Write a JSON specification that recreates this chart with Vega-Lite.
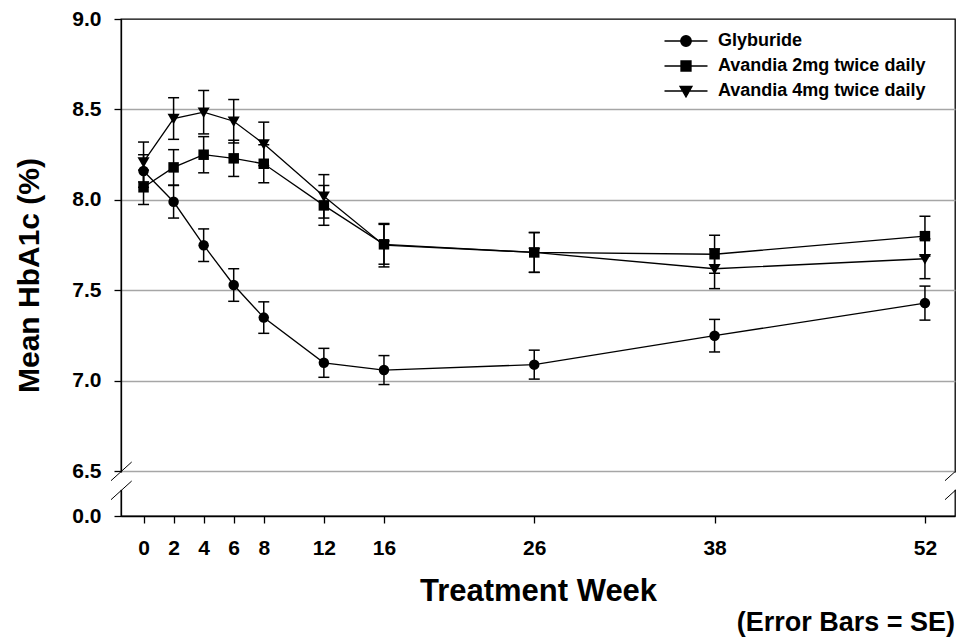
{
  "$schema": "https://vega.github.io/schema/vega-lite/v6.json",
  "width": 834,
  "height": 497,
  "autosize": {"type": "none"},
  "padding": {"left": 121, "top": 19, "right": 1, "bottom": 127},
  "background": "white",
  "config": {
    "font": "Liberation Sans",
    "view": {"stroke": "black", "strokeWidth": 1.3},
    "axis": {
      "labelFont": "Liberation Sans",
      "titleFont": "Liberation Sans",
      "labelFontWeight": "bold",
      "labelColor": "black",
      "titleColor": "black",
      "titleFontWeight": "bold",
      "domainColor": "black",
      "tickColor": "black",
      "domainWidth": 1.3,
      "tickWidth": 1.3
    }
  },
  "title": {
    "text": "(Error Bars = SE)",
    "orient": "bottom",
    "anchor": "end",
    "frame": "group",
    "font": "Liberation Sans",
    "fontSize": 27,
    "fontWeight": "bold",
    "color": "black",
    "offset": 4
  },
  "data": {
    "values": [
      {"drug": "Glyburide", "week": 0, "mean": 8.16, "se": 0.09},
      {"drug": "Glyburide", "week": 2, "mean": 7.99, "se": 0.09},
      {"drug": "Glyburide", "week": 4, "mean": 7.75, "se": 0.09},
      {"drug": "Glyburide", "week": 6, "mean": 7.53, "se": 0.09},
      {"drug": "Glyburide", "week": 8, "mean": 7.35, "se": 0.087},
      {"drug": "Glyburide", "week": 12, "mean": 7.1, "se": 0.08},
      {"drug": "Glyburide", "week": 16, "mean": 7.06, "se": 0.08},
      {"drug": "Glyburide", "week": 26, "mean": 7.09, "se": 0.08},
      {"drug": "Glyburide", "week": 38, "mean": 7.25, "se": 0.09},
      {"drug": "Glyburide", "week": 52, "mean": 7.43, "se": 0.094},
      {"drug": "Avandia 2mg twice daily", "week": 0, "mean": 8.07, "se": 0.095},
      {"drug": "Avandia 2mg twice daily", "week": 2, "mean": 8.18, "se": 0.098},
      {"drug": "Avandia 2mg twice daily", "week": 4, "mean": 8.25, "se": 0.1},
      {"drug": "Avandia 2mg twice daily", "week": 6, "mean": 8.23, "se": 0.1},
      {"drug": "Avandia 2mg twice daily", "week": 8, "mean": 8.2, "se": 0.105},
      {"drug": "Avandia 2mg twice daily", "week": 12, "mean": 7.97, "se": 0.11},
      {"drug": "Avandia 2mg twice daily", "week": 16, "mean": 7.755, "se": 0.11},
      {"drug": "Avandia 2mg twice daily", "week": 26, "mean": 7.71, "se": 0.11},
      {"drug": "Avandia 2mg twice daily", "week": 38, "mean": 7.7, "se": 0.105},
      {"drug": "Avandia 2mg twice daily", "week": 52, "mean": 7.8, "se": 0.11},
      {"drug": "Avandia 4mg twice daily", "week": 0, "mean": 8.21, "se": 0.11},
      {"drug": "Avandia 4mg twice daily", "week": 2, "mean": 8.45, "se": 0.115},
      {"drug": "Avandia 4mg twice daily", "week": 4, "mean": 8.485, "se": 0.12},
      {"drug": "Avandia 4mg twice daily", "week": 6, "mean": 8.435, "se": 0.12},
      {"drug": "Avandia 4mg twice daily", "week": 8, "mean": 8.31, "se": 0.12},
      {"drug": "Avandia 4mg twice daily", "week": 12, "mean": 8.02, "se": 0.12},
      {"drug": "Avandia 4mg twice daily", "week": 16, "mean": 7.75, "se": 0.12},
      {"drug": "Avandia 4mg twice daily", "week": 26, "mean": 7.71, "se": 0.11},
      {"drug": "Avandia 4mg twice daily", "week": 38, "mean": 7.62, "se": 0.11},
      {"drug": "Avandia 4mg twice daily", "week": 52, "mean": 7.675, "se": 0.11}
    ]
  },
  "resolve": {"scale": {"shape": "independent"}},
  "layer": [
    {
      "mark": {"type": "line", "color": "black", "strokeWidth": 1.3},
      "encoding": {
        "x": {
          "field": "week",
          "type": "quantitative",
          "scale": {"domain": [-1.5, 54], "nice": false, "zero": false},
          "axis": {
            "values": [0, 2, 4, 6, 8, 12, 16, 26, 38, 52],
            "labelFontSize": 21,
            "tickSize": 7,
            "labelPadding": 14,
            "grid": false,
            "title": "Treatment Week",
            "titleFontSize": 31,
            "titlePadding": 18
          }
        },
        "y": {
          "field": "mean",
          "type": "quantitative",
          "scale": {"domain": [0, 6.5, 9], "range": [497, 452.4, 0], "nice": false, "zero": false},
          "axis": {
            "values": [0, 6.5, 7, 7.5, 8, 8.5, 9],
            "format": ".1f",
            "labelFontSize": 21,
            "tickSize": 7,
            "labelPadding": 13,
            "title": "Mean HbA1c (%)",
            "titleFontSize": 30,
            "titlePadding": 27,
            "titleY": 256,
            "grid": true,
            "gridColor": {"condition": {"test": "datum.value == 0 || datum.value == 9", "value": "transparent"}, "value": "#a6a6a6"},
            "gridWidth": 1.5
          }
        },
        "detail": {"field": "drug", "type": "nominal"}
      }
    },
    {
      "mark": {
        "type": "errorbar",
        "color": "black",
        "opacity": 1,
        "thickness": 1.5,
        "rule": {"color": "black", "opacity": 1, "strokeWidth": 1.5},
        "ticks": {"size": 11, "thickness": 1.5, "color": "black", "opacity": 1}
      },
      "encoding": {
        "x": {"field": "week", "type": "quantitative", "title": "Treatment Week"},
        "y": {"field": "mean", "type": "quantitative", "title": "Mean HbA1c (%)"},
        "yError": {"field": "se"},
        "detail": {"field": "drug", "type": "nominal"}
      }
    },
    {
      "mark": {"type": "point", "filled": true, "color": "black", "opacity": 1, "size": 110},
      "encoding": {
        "x": {"field": "week", "type": "quantitative", "title": "Treatment Week"},
        "y": {"field": "mean", "type": "quantitative", "title": "Mean HbA1c (%)"},
        "shape": {
          "field": "drug",
          "type": "nominal",
          "scale": {
            "domain": ["Glyburide", "Avandia 2mg twice daily", "Avandia 4mg twice daily"],
            "range": ["circle", "square", "M-1.15,-0.9L1.15,-0.9L0,1.1Z"]
          },
          "legend": null
        }
      }
    },
    {
      "mark": {"type": "point", "filled": true, "fill": "black", "stroke": "black", "strokeWidth": 1.3, "opacity": 0, "size": 100},
      "encoding": {
        "x": {"field": "week", "type": "quantitative", "title": "Treatment Week"},
        "y": {"field": "mean", "type": "quantitative", "title": "Mean HbA1c (%)"},
        "shape": {
          "field": "drug",
          "type": "nominal",
          "scale": {
            "domain": ["Glyburide", "Avandia 2mg twice daily", "Avandia 4mg twice daily"],
            "range": [
              "M-4.3,0H4.3M-1.05,0A1.05,1.05 0 1,0 1.05,0A1.05,1.05 0 1,0 -1.05,0Z",
              "M-4.3,0H4.3M-1,-1H1V1H-1Z",
              "M-4.3,0H4.3M-1.2,-0.9H1.2L0,1.2Z"
            ]
          },
          "legend": {
            "title": null,
            "orient": "none",
            "legendX": 556,
            "legendY": 13,
            "padding": 0,
            "labelFont": "Liberation Sans",
            "labelFontSize": 18,
            "labelFontWeight": "bold",
            "labelColor": "black",
            "labelOffset": 23,
            "labelLimit": 500,
            "rowPadding": 7,
            "symbolSize": 100,
            "symbolOpacity": 1,
            "symbolStrokeWidth": 1.3
          }
        }
      }
    },
    {
      "data": {"values": [{}]},
      "mark": {"type": "point", "shape": "M-0.25,0.12H0.25V1.85H-0.25Z", "size": 400, "filled": true, "color": "white", "opacity": 1, "strokeWidth": 0},
      "encoding": {"x": {"datum": -1.5, "type": "quantitative"}, "y": {"datum": 6.5, "type": "quantitative"}}
    },
    {
      "data": {"values": [{}]},
      "mark": {"type": "point", "shape": "M-0.25,0.12H0.25V1.85H-0.25Z", "size": 400, "filled": true, "color": "white", "opacity": 1, "strokeWidth": 0},
      "encoding": {"x": {"datum": 54, "type": "quantitative"}, "y": {"datum": 6.5, "type": "quantitative"}}
    },
    {
      "data": {"values": [{}]},
      "mark": {"type": "point", "shape": "M-1,0.93L1.07,-0.94M-1,2.83L1.07,0.96", "size": 400, "filled": false, "color": "black", "opacity": 1, "strokeWidth": 1},
      "encoding": {"x": {"datum": -1.5, "type": "quantitative"}, "y": {"datum": 6.5, "type": "quantitative"}}
    },
    {
      "data": {"values": [{}]},
      "mark": {"type": "point", "shape": "M-1,0.93L1.07,-0.94M-1,2.83L1.07,0.96", "size": 400, "filled": false, "color": "black", "opacity": 1, "strokeWidth": 1},
      "encoding": {"x": {"datum": 54, "type": "quantitative"}, "y": {"datum": 6.5, "type": "quantitative"}}
    }
  ]
}
